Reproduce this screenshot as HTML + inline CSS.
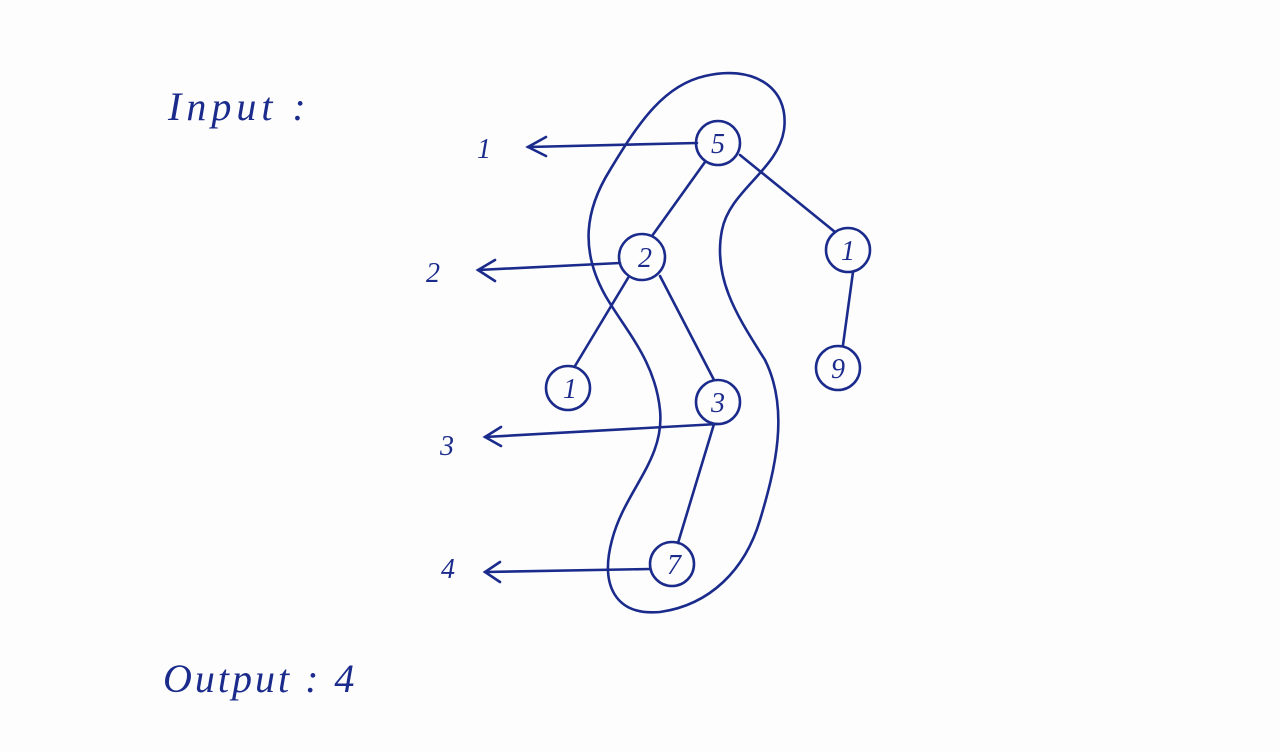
<!DOCTYPE html>
<html><head><meta charset="utf-8"><style>
html,body{margin:0;padding:0;background:#fdfdfd;}
svg{display:block}
text{font-family:"Liberation Serif",serif;fill:#1b2b8c;font-style:italic}
</style></head><body>
<svg width="1280" height="752" viewBox="0 0 1280 752">
<g stroke="#1b2b8c" stroke-width="2.6" fill="none" stroke-linecap="round">
  <path d="M705,76 C750,65 790,85 784,130 C778,170 730,190 722,230 C712,280 740,320 765,360 C790,410 775,470 760,520 C745,570 710,605 660,612 C615,616 600,585 612,540 C625,490 665,460 660,410 C655,360 625,330 605,295 C580,250 585,210 610,170 C640,120 665,85 705,76 Z"/>
  <line x1="705" y1="162" x2="652" y2="236"/>
  <line x1="740" y1="155" x2="835" y2="232"/>
  <line x1="628" y1="278" x2="575" y2="366"/>
  <line x1="660" y1="276" x2="714" y2="380"/>
  <line x1="853" y1="272" x2="843" y2="345"/>
  <line x1="714" y1="424" x2="678" y2="543"/>
  <g>
    <line x1="697" y1="143" x2="528" y2="147"/><path d="M546,137 L528,147 L546,156"/>
    <line x1="620" y1="263" x2="478" y2="270"/><path d="M495,260 L478,270 L495,281"/>
    <line x1="718" y1="424" x2="485" y2="437"/><path d="M501,427 L485,437 L501,446"/>
    <line x1="650" y1="569" x2="485" y2="572"/><path d="M500,562 L485,572 L500,582"/>
  </g>
  <circle cx="718" cy="143" r="22"/>
  <circle cx="642" cy="257" r="23"/>
  <circle cx="848" cy="250" r="22"/>
  <circle cx="568" cy="388" r="22"/>
  <circle cx="718" cy="402" r="22"/>
  <circle cx="838" cy="368" r="22"/>
  <circle cx="672" cy="564" r="22"/>
</g>
<g font-size="28" text-anchor="middle">
  <text x="718" y="153">5</text>
  <text x="645" y="267">2</text>
  <text x="848" y="260">1</text>
  <text x="570" y="398">1</text>
  <text x="718" y="412">3</text>
  <text x="838" y="378">9</text>
  <text x="674" y="574">7</text>
  <text x="484" y="158">1</text>
  <text x="433" y="282">2</text>
  <text x="447" y="455">3</text>
  <text x="448" y="578">4</text>
</g>
<text x="168" y="120" font-size="40" letter-spacing="5">Input :</text>
<text x="163" y="692" font-size="40" letter-spacing="3">Output : 4</text>
</svg>
</body></html>
